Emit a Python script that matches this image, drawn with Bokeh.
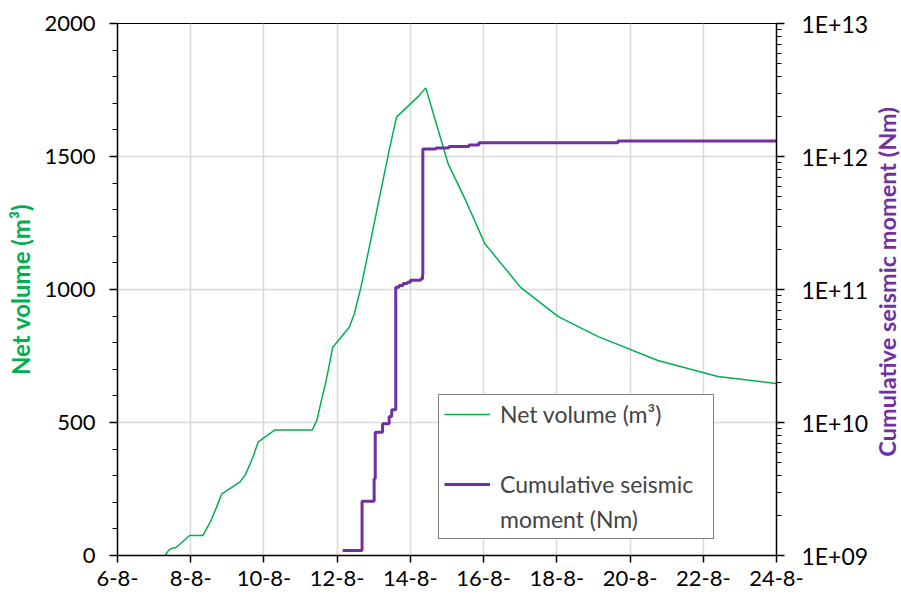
import math
from bokeh.plotting import figure
from bokeh.layouts import row
from bokeh.models import (Range1d, LogScale, LogAxis, LinearAxis, FixedTicker, Label,
                          SingleIntervalTicker, Legend, LegendItem, ColumnDataSource)
from bokeh.embed import file_html
from bokeh.resources import INLINE

# ---------------- data ----------------
# Net volume (m3) vs day of August
vol_day = [7.30, 7.40, 7.49, 7.60, 7.97, 8.33, 8.55, 8.70, 8.85, 9.34, 9.50, 9.70, 9.84,
           10.30, 11.32, 11.45, 11.57, 11.70, 11.88, 12.33, 12.47, 12.65, 12.86, 13.42,
           13.62, 14.10, 14.24, 14.42, 15.03, 15.51, 16.03, 17.01, 18.04, 19.13, 20.76,
           22.40, 24.00]
vol_m3 = [0, 20, 27, 30, 75, 75, 130, 180, 232, 276, 305, 370, 426,
          472, 472, 510, 583, 658, 783, 858, 909, 1009, 1147, 1523,
          1648, 1711, 1729, 1758, 1473, 1335, 1173, 1008, 898, 823, 733,
          673, 647]

# Cumulative seismic moment (Nm), step after each event
mom_day = [12.15, 12.68, 13.01, 13.04, 13.24, 13.42, 13.49, 13.60, 13.69, 13.80, 13.92,
           14.00, 14.28, 14.33, 14.34, 14.70, 15.05, 15.60, 15.87, 19.67, 24.00]
mom_nm = [1.09e9, 2.56e9, 3.78e9, 8.45e9, 9.77e9, 1.11e10, 1.245e10, 1.04e11, 1.07e11,
          1.11e11, 1.135e11, 1.175e11, 1.20e11, 1.29e11, 1.14e12, 1.16e12, 1.19e12,
          1.22e12, 1.27e12, 1.31e12, 1.32e12]

x_ticks = [6, 8, 10, 12, 14, 16, 18, 20, 22, 24]
x_tick_labels = ["6-8-", "8-8-", "10-8-", "12-8-", "14-8-", "16-8-", "18-8-",
                 "20-8-", "22-8-", "24-8-"]
mom_ticks = [1e9, 1e10, 1e11, 1e12, 1e13]
mom_tick_labels = ["1E+09", "1E+10", "1E+11", "1E+12", "1E+13"]

GREEN = "#00B050"
PURPLE = "#7030A0"
FONT = "Lato"

main = figure(width=871, height=597, output_backend="svg", toolbar_location=None,
              x_range=Range1d(6, 24), y_range=Range1d(0, 2000),
              min_border_left=117, min_border_right=91, min_border_top=23,
              min_border_bottom=42, y_axis_location=None, x_axis_location=None)
main.extra_y_ranges = {"m": Range1d(1e9, 1e13)}
main.extra_y_scales = {"m": LogScale()}

main.outline_line_color = "black"
main.outline_line_width = 1
main.background_fill_color = "white"
main.border_fill_color = "white"

# axes
xaxis = LinearAxis(ticker=SingleIntervalTicker(interval=2, num_minor_ticks=0))
xaxis.major_label_overrides = dict(zip(x_ticks, x_tick_labels))
yaxis = LinearAxis(ticker=SingleIntervalTicker(interval=500, num_minor_ticks=5),
                   axis_label="Net volume (m³)")
minor_m = [k * 10 ** d for d in range(9, 13) for k in range(2, 10)]
raxis = LogAxis(y_range_name="m", ticker=FixedTicker(ticks=mom_ticks, minor_ticks=minor_m))
raxis.major_label_overrides = dict(zip(mom_ticks, mom_tick_labels))

for ax in (xaxis, yaxis, raxis):
    ax.axis_line_color = "black"
    ax.axis_line_width = 1.5
    ax.major_tick_line_color = "black"
    ax.major_tick_line_width = 1.5
    ax.minor_tick_line_color = "black"
    ax.minor_tick_line_width = 1.2
    ax.major_tick_in = 0
    ax.major_tick_out = 8
    ax.minor_tick_in = 0
    ax.minor_tick_out = 5
    ax.major_label_text_font = FONT
    ax.major_label_text_color = "black"
    ax.major_label_text_font_size = "22px"
    ax.axis_label_text_font = FONT
    ax.axis_label_text_font_style = "bold"
    ax.axis_label_text_font_size = "24px"

xaxis.major_tick_out = 7
xaxis.major_label_standoff = 8
yaxis.major_label_standoff = 14
yaxis.axis_label_standoff = 6
yaxis.axis_label_text_color = GREEN
raxis.major_label_standoff = 17
raxis.major_label_text_font_size = "23px"

main.add_layout(xaxis, "below")
main.add_layout(yaxis, "left")
main.add_layout(raxis, "right")

main.xgrid.ticker = xaxis.ticker
main.ygrid.ticker = yaxis.ticker
for g in (main.xgrid, main.ygrid):
    g.grid_line_color = "#D9D9D9"
    g.grid_line_width = 1.5

vol_src = ColumnDataSource(dict(x=vol_day, y=vol_m3))
mom_src = ColumnDataSource(dict(x=mom_day, y=mom_nm))

g_line = main.line("x", "y", source=vol_src, line_color=GREEN, line_width=1.5)
m_line = main.step("x", "y", source=mom_src, mode="after", y_range_name="m",
                   line_color=PURPLE, line_width=3)
# invisible renderer used only for spacer / continuation rows of the legend
blank = main.line(x=[], y=[], line_alpha=0)

legend = Legend(items=[LegendItem(label="Net volume (m³)", renderers=[g_line]),
                       LegendItem(label=" ", renderers=[blank]),
                       LegendItem(label="Cumulative seismic", renderers=[m_line]),
                       LegendItem(label="moment (Nm)", renderers=[blank])],
                location=(321, 16))
legend.border_line_color = "black"
legend.border_line_width = 1
legend.background_fill_color = "white"
legend.background_fill_alpha = 1
legend.label_text_font = FONT
legend.label_text_font_size = "23px"
legend.glyph_width = 46
legend.glyph_height = 28
legend.label_height = 28
legend.label_standoff = 10
legend.label_width = 208
legend.padding = 5
legend.spacing = 7
legend.margin = 0
main.add_layout(legend, "center")

# narrow strip on the right carrying the right-hand axis title (bottom-to-top)
strip = figure(width=30, height=597, output_backend="svg", toolbar_location=None,
               x_range=Range1d(0, 30), y_range=Range1d(0, 597),
               min_border=0, x_axis_location=None, y_axis_location=None)
strip.outline_line_color = None
strip.grid.visible = False
strip.background_fill_color = "white"
strip.border_fill_color = "white"
strip.add_layout(Label(x=15, y=307, text="Cumulative seismic moment (Nm)",
                       angle=math.pi / 2, text_align="center", text_baseline="middle",
                       text_font=FONT, text_font_style="bold", text_font_size="23.5px",
                       text_color=PURPLE))

p = row(main, strip, spacing=0)

open("out.html", "w").write(file_html(p, INLINE))
